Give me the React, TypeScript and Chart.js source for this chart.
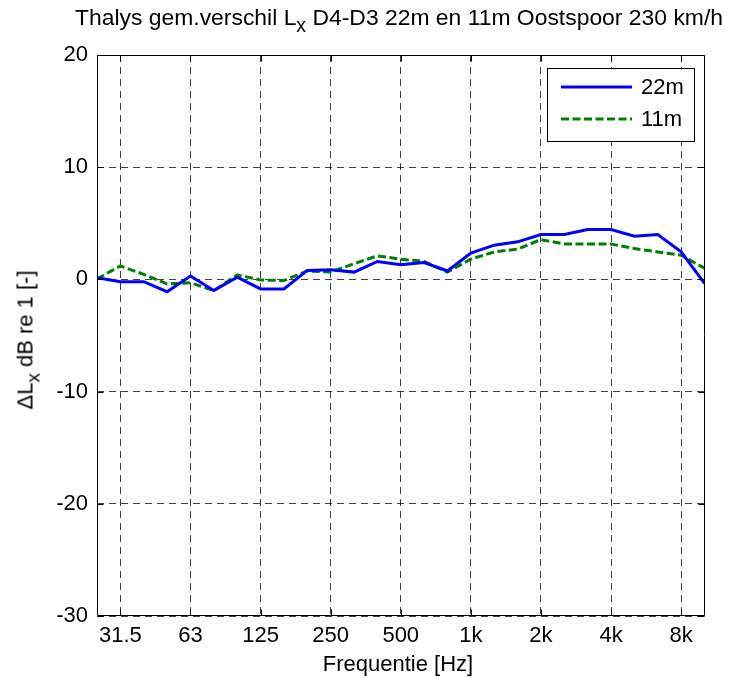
import React, { useEffect, useRef } from "react";
import { Chart, registerables } from "chart.js";

Chart.register(...registerables);

// Third-octave band centre frequencies (category positions on the x axis)
const bands = ["25", "31.5", "40", "50", "63", "80", "100", "125", "160", "200", "250", "315", "400", "500", "630", "800", "1k", "1.25k", "1.6k", "2k", "2.5k", "3.15k", "4k", "5k", "6.3k", "8k", "10k"];
const tickBands = ["31.5", "63", "125", "250", "500", "1k", "2k", "4k", "8k"];

const series22m = [0.15, -0.2, -0.2, -1.1, 0.3, -1.0, 0.2, -0.85, -0.85, 0.8, 0.85, 0.65, 1.6, 1.3, 1.5, 0.75, 2.35, 3.05, 3.35, 4.0, 4.0, 4.45, 4.45, 3.85, 4.0, 2.45, -0.35];
const series11m = [0.05, 1.2, 0.45, -0.4, -0.3, -1.0, 0.4, -0.05, -0.1, 0.75, 0.65, 1.4, 2.1, 1.8, 1.6, 0.65, 1.8, 2.45, 2.7, 3.55, 3.15, 3.15, 3.15, 2.75, 2.45, 2.15, 1.0];

const yTicks = [-30, -20, -10, 0, 10, 20];

const FONT = "'Liberation Sans', Arial, Helvetica, sans-serif";

const frame = {
  id: "matlabFrame",
  afterDraw(chart: any) {
    const { ctx, chartArea: a, scales } = chart;
    ctx.save();
    ctx.strokeStyle = "#000";
    ctx.lineWidth = 1;
    ctx.setLineDash([]);
    const L = Math.round(a.left) + 0.5;
    const R = Math.round(a.right) - 0.5;
    const T = Math.round(a.top) + 0.5;
    const B = Math.round(a.bottom) - 0.5;
    ctx.beginPath();
    ctx.rect(L, T, R - L, B - T);
    const tl = 6;
    scales.x.ticks.forEach((t: any) => {
      const x = Math.round(scales.x.getPixelForValue(t.value)) + 0.5;
      ctx.moveTo(x, B);
      ctx.lineTo(x, B - tl);
      ctx.moveTo(x, T);
      ctx.lineTo(x, T + tl);
    });
    scales.y.ticks.forEach((t: any) => {
      const y = Math.round(scales.y.getPixelForValue(t.value)) + 0.5;
      ctx.moveTo(L, y);
      ctx.lineTo(L + tl, y);
      ctx.moveTo(R, y);
      ctx.lineTo(R - tl, y);
    });
    ctx.stroke();

    // legend box
    const lx = 547, ly = 68, lw = 147, lh = 73;
    ctx.fillStyle = "#fff";
    ctx.fillRect(lx, ly, lw, lh);
    ctx.strokeRect(lx + 0.5, ly + 0.5, lw, lh);
    const items = [
      { label: chart.data.datasets[0].label, color: chart.data.datasets[0].borderColor, dash: [], y: 87 },
      { label: chart.data.datasets[1].label, color: chart.data.datasets[1].borderColor, dash: [8, 3.5], y: 119 },
    ];
    items.forEach((it) => {
      ctx.beginPath();
      ctx.strokeStyle = it.color;
      ctx.lineWidth = 3;
      ctx.setLineDash(it.dash);
      ctx.moveTo(561, it.y);
      ctx.lineTo(632, it.y);
      ctx.stroke();
      ctx.setLineDash([]);
      ctx.fillStyle = "#000";
      ctx.font = `22px ${FONT}`;
      ctx.textBaseline = "middle";
      ctx.textAlign = "left";
      ctx.fillText(it.label, 641, it.y + 1);
    });
    ctx.restore();
  },
};

export default function App() {
  const ref = useRef<HTMLCanvasElement | null>(null);

  useEffect(() => {
    if (!ref.current) return;
    const toPts = (arr: number[]) => arr.map((v, i) => ({ x: i, y: v }));
    const chart = new Chart(ref.current, {
      type: "line",
      data: {
        datasets: [
          {
            label: "22m",
            data: toPts(series22m),
            borderColor: "#0000ff",
            borderWidth: 3,
            pointRadius: 0,
            tension: 0,
            fill: false,
          },
          {
            label: "11m",
            data: toPts(series11m),
            borderColor: "#008000",
            borderWidth: 3,
            borderDash: [8, 3.5],
            pointRadius: 0,
            tension: 0,
            fill: false,
          },
        ],
      },
      options: {
        responsive: false,
        maintainAspectRatio: false,
        animation: false,
        devicePixelRatio: 1,
        layout: { padding: { top: 55, right: 24.5, left: 0, bottom: 0 } },
        plugins: { legend: { display: false }, title: { display: false }, tooltip: { enabled: false } },
        scales: {
          x: {
            type: "linear",
            min: 0,
            max: bands.length - 1,
            afterBuildTicks: (scale: any) => {
              scale.ticks = tickBands.map((b) => ({ value: bands.indexOf(b) }));
            },
            afterFit: (scale: any) => {
              scale.height = 62;
            },
            ticks: {
              autoSkip: false,
              maxRotation: 0,
              padding: 7,
              color: "#000",
              font: { family: FONT, size: 22 },
              callback: (v: any) => bands[Math.round(Number(v))],
            },
            grid: { drawTicks: false, color: "rgba(0,0,0,0.75)", lineWidth: 1 },
            border: { display: false, dash: [7, 5] },
          },
          y: {
            type: "linear",
            min: -30,
            max: 20,
            afterBuildTicks: (scale: any) => {
              scale.ticks = yTicks.map((v) => ({ value: v }));
            },
            afterFit: (scale: any) => {
              scale.width = 97;
            },
            ticks: {
              padding: 9,
              color: "#000",
              font: { family: FONT, size: 22 },
            },
            grid: { drawTicks: false, color: "rgba(0,0,0,0.75)", lineWidth: 1 },
            border: { display: false, dash: [7, 5] },
          },
        },
      },
      plugins: [frame],
    });
    return () => chart.destroy();
  }, []);

  const text: React.CSSProperties = {
    position: "absolute",
    fontFamily: FONT,
    fontSize: 22,
    lineHeight: "22px",
    whiteSpace: "nowrap",
    color: "#000",
  };
  const sub: React.CSSProperties = { position: "relative", top: "0.35em", fontSize: "0.85em" };

  return (
    <div style={{ position: "absolute", left: 0, top: 0, width: 729, height: 678, background: "#fff", overflow: "hidden" }}>
      <canvas ref={ref} width={729} height={678} style={{ display: "block", width: 729, height: 678 }} />
      <div style={{ ...text, fontSize: 22.9, left: 399, top: 5.8, transform: "translateX(-50%)" }}>
        Thalys gem.verschil L<span style={sub}>x</span> D4-D3 22m en 11m Oostspoor 230 km/h
      </div>
      <div style={{ ...text, left: 398, top: 653, transform: "translateX(-50%)" }}>Frequentie [Hz]</div>
      <div style={{ ...text, left: 25.5, top: 340, transform: "translate(-50%, -50%) rotate(-90deg)" }}>
        ΔL<span style={sub}>x</span> dB re 1 [-]
      </div>
    </div>
  );
}
